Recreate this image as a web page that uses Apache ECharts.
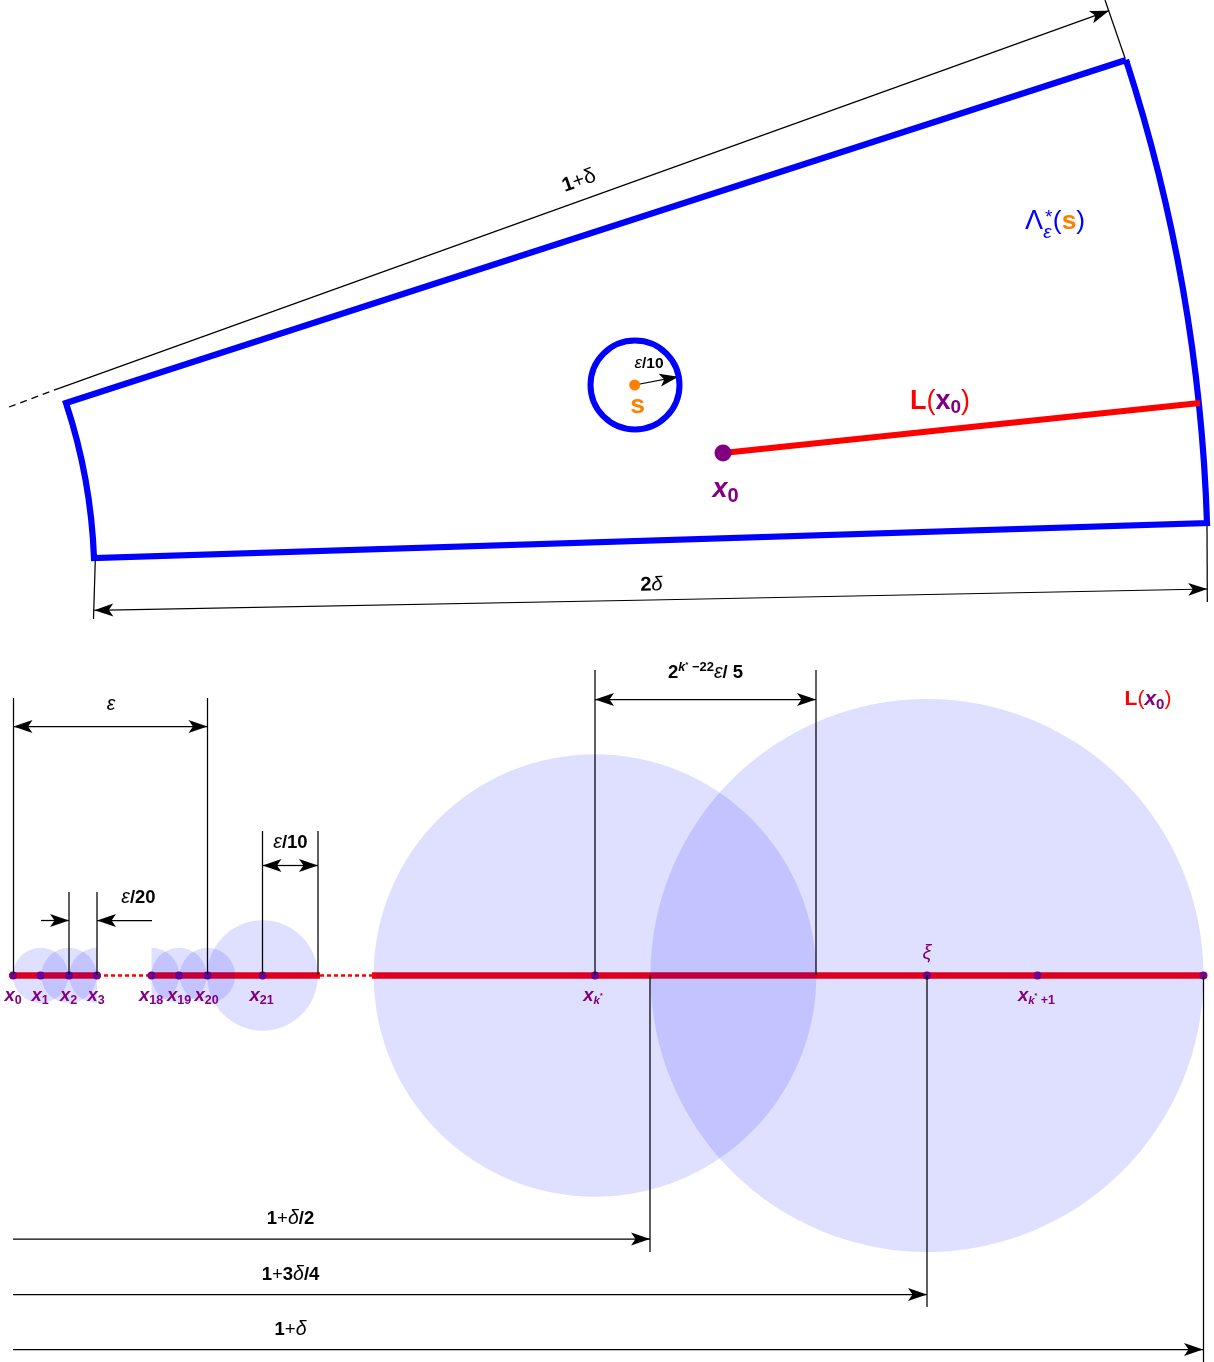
<!DOCTYPE html>
<html>
<head>
<meta charset="utf-8">
<style>html,body{margin:0;padding:0;background:#fff;overflow:hidden}#c{width:1214px;height:1362px}</style>
<script src="https://cdn.jsdelivr.net/npm/echarts@6/dist/echarts.min.js"></script>
</head>
<body>
<div id="c"></div>
<script>
// ---- geometry, in picture units ----
const fanCorners = [[66, 403], [1126, 60], [1207, 523], [94, 558]];
const fanRadii = [1675, 561];
const sCircle = [635, 385, 44.5];
const redLineTop = [[723, 453], [1200, 403]];
const dotS = [[634.7, 385]];
const dotX0 = [[723, 453]];

const dashedGuide = [[9, 407], [59, 388.3]];
const thinLines = [
  [[1105, 0], [1125, 58]],
  [[95.3, 560], [93.5, 619]],
  [[1207, 526], [1207.3, 602]],
  [[13.5, 698], [13.5, 975]],
  [[207.5, 698], [207.5, 975]],
  [[69, 892], [69, 975]],
  [[97, 892], [97, 975]],
  [[262.5, 831], [262.5, 975]],
  [[318, 831], [318, 975]],
  [[595, 670], [595, 975]],
  [[816, 670], [816, 975]],
  [[650, 975], [650, 1252]],
  [[927, 975], [927, 1307]],
  [[1203.5, 975], [1203.5, 1362]]
];
const arrows = [ // from, to: the head sits on "to"
  [59, 388.3, 1109, 10.7],
  [651, 600, 94.3, 610.3],
  [651, 600, 1207.3, 589],
  [634.7, 385, 678.5, 376.7],
  [110, 726.5, 13.5, 726.5],
  [110, 726.5, 207.5, 726.5],
  [290, 865.5, 262.5, 865.5],
  [290, 865.5, 318, 865.5],
  [41, 920.5, 69, 920.5],
  [152, 920.5, 97, 920.5],
  [705, 699.5, 595, 699.5],
  [705, 699.5, 816, 699.5],
  [13, 1239, 650, 1239],
  [13, 1294.5, 927, 1294.5],
  [13, 1349.5, 1203, 1349.5]
];
const axisY = 975.5;
const redSolid = [[13, 97], [152, 320], [372, 1203]];
const redDotted = [[97, 152], [320, 372]];
const pointXs = [13, 40.5, 69, 97, 151.5, 179, 207.5, 262.5, 595, 927, 1037.5, 1203.5];
// discs: centre x, radius, part ('full', 'left' half, 'right' half)
const discs = [
  [40.5, 27.7, 'full'], [69, 27.7, 'full'], [97, 27.7, 'left'],
  [151.5, 27.7, 'right'], [179, 27.7, 'full'], [207.5, 27.7, 'full'],
  [262.5, 55.3, 'full'], [595, 221.3, 'full'], [927, 276.5, 'full']
];

const BLUE = '#0000ff', RED = '#ff0000', ORANGE = '#ff8000', PURPLE = '#800080';
const FF = '"Liberation Sans", Arial, sans-serif';

function r(size, color, weight, style, extra) {
  return Object.assign({fontFamily: FF, fontSize: size, fill: color || '#000', fontWeight: weight || 'normal', fontStyle: style || 'normal'}, extra || {});
}
const sharedRich = {
  b: r(18.5, '#000', 'bold'),
  n: r(18.5, '#000'),
  i: r(19.5, '#000', 'normal', 'italic'),
  b20: r(20, '#000', 'bold'),
  n20: r(20, '#000'),
  i20: r(21, '#000'),
  i20i: r(20, '#000', 'normal', 'italic'),
  bs: r(15.5, '#000', 'bold'),
  is: r(17, '#000', 'normal', 'italic'),
  sup: r(13, '#000', 'bold', 'normal', {verticalAlign: 'top'}),
  supt: r(8, '#000', 'bold', 'normal', {verticalAlign: 'top'}),
  supi: r(12.5, '#000', 'bold', 'italic', {verticalAlign: 'top'}),
  px: r(18.5, PURPLE, 'bold', 'italic'),
  psub: r(12.5, PURPLE, 'bold', 'normal', {verticalAlign: 'bottom'}),
  psubi: r(11.5, PURPLE, 'bold', 'italic', {verticalAlign: 'bottom'}),
  pstar: r(7, PURPLE, 'bold', 'normal', {verticalAlign: 'middle'}),
  bigx: r(27, PURPLE, 'bold', 'italic'),
  bigsub: r(20, PURPLE, 'bold', 'normal', {verticalAlign: 'bottom'}),
  rL: r(27, RED, 'bold'),
  rp: r(27, RED),
  pX: r(27, PURPLE, 'bold'),
  pXs: r(19, PURPLE, 'bold', 'normal', {verticalAlign: 'bottom'}),
  rL2: r(21, RED, 'bold'),
  rp2: r(21, RED),
  pX2: r(21, PURPLE, 'bold', 'italic'),
  pXs2: r(15, PURPLE, 'bold', 'normal', {verticalAlign: 'bottom'}),
  lam: r(27, BLUE),
  lamE: r(19, BLUE, 'normal', 'italic'),
  par: r(26.5, BLUE),
  sO: r(26.5, ORANGE, 'bold'),
  xi: r(20, PURPLE, 'normal', 'italic')
};
// x, y, text, rotation degrees, line height
const labels = [
  [579, 181, '{b20|1}{n20|+}{i20|δ}', 19.8],
  [651.5, 585, '{b20|2}{i20i|δ}', 1.1],
  [1034, 222, '{lam|Λ}', 0],
  [1048, 218, '{lamE|*}', 0],
  [1047.5, 233, '{lamE|ε}', 0],
  [1069, 222, '{par|(}{sO|s}{par|)}', 0],
  [649, 363.5, '{is|ε}{bs|/10}', 0],
  [637.5, 405.5, '{sO|s}', 0],
  [725.5, 490, '{bigx|x}{bigsub|0}', 0, 33],
  [940, 401.5, '{rL|L}{rp|(}{pX|x}{pXs|0}{rp|)}', 0, 32],
  [1148, 699.5, '{rL2|L}{rp2|(}{pX2|x}{pXs2|0}{rp2|)}', 0, 25],
  [111, 705, '{i|ε}', 0],
  [290.5, 843, '{i|ε}{b|/10}', 0],
  [138.5, 898, '{i|ε}{b|/20}', 0],
  [705.5, 673, '{b|2}{supi|k}{supt|*}{sup| −22}{i|ε}{b|/ 5}', 0, 24],
  [13, 996, '{px|x}{psub|0}', 0, 22],
  [40, 996, '{px|x}{psub|1}', 0, 22],
  [68.5, 996, '{px|x}{psub|2}', 0, 22],
  [96, 996, '{px|x}{psub|3}', 0, 22],
  [151, 996, '{px|x}{psub|18}', 0, 22],
  [179, 996, '{px|x}{psub|19}', 0, 22],
  [206.5, 996, '{px|x}{psub|20}', 0, 22],
  [261.5, 996, '{px|x}{psub|21}', 0, 22],
  [593, 996, '{px|x}{psubi|k}{pstar|*}', 0, 22],
  [1036.5, 996, '{px|x}{psubi|k}{pstar|*}{psub| +1}', 0, 22],
  [927, 953, '{xi|ξ}', 0],
  [290.5, 1219, '{b|1}{n|+}{i|δ}{b|/2}', 0],
  [290.5, 1275, '{b|1}{n|+}{b|3}{i|δ}{b|/4}', 0],
  [290.5, 1330, '{b|1}{n|+}{i|δ}', 0]
];

function lineSeries(pts, width, color, z, dash) {
  return {type: 'line', data: pts, symbol: 'none', silent: true, clip: false, z: z, animation: false,
    lineStyle: {width: width, color: color, type: dash || 'solid', cap: 'butt', join: 'miter'}};
}
function dots(pts, size, color, z) {
  return {type: 'scatter', data: pts, symbol: 'circle', symbolSize: size, silent: true, clip: false, z: z,
    itemStyle: {color: color, opacity: 1}};
}

const series = [
  // outline of the annular sector
  {type: 'custom', coordinateSystem: 'cartesian2d', silent: true, clip: false, z: 5,
    data: [fanCorners.flat().concat(fanRadii)],
    renderItem: function (p, api) {
      const c = [0, 2, 4, 6].map(i => api.coord([api.value(i), api.value(i + 1)]));
      const k = api.size([1, 1])[0];
      const R = api.value(8) * k, q = api.value(9) * k;
      const d = 'M' + c[0] + 'L' + c[1] + 'A' + R + ' ' + R + ' 0 0 1 ' + c[2] + 'L' + c[3] + 'A' + q + ' ' + q + ' 0 0 0 ' + c[0] + 'Z';
      return {type: 'path', shape: {pathData: d.replace(/,/g, ' ')}, style: {fill: 'none', stroke: BLUE, lineWidth: 6.2, lineJoin: 'miter'}};
    }},
  // circle round s
  {type: 'custom', coordinateSystem: 'cartesian2d', silent: true, clip: false, z: 5,
    data: [sCircle],
    renderItem: function (p, api) {
      const c = api.coord([api.value(0), api.value(1)]);
      return {type: 'circle', shape: {cx: c[0], cy: c[1], r: api.size([api.value(2), 0])[0]}, style: {fill: 'none', stroke: BLUE, lineWidth: 6}};
    }},
  lineSeries(redLineTop, 5.8, RED, 6),
  dots(dotS, 11, ORANGE, 7),
  dots(dotX0, 17, PURPLE, 7),
  lineSeries(dashedGuide, 1.25, '#000', 4, [7, 5]),
  // lower diagram
  ...redSolid.map(s => lineSeries([[s[0], axisY], [s[1], axisY]], 6.6, RED, 1)),
  ...redDotted.map(s => lineSeries([[s[0], axisY], [s[1], axisY]], 2.6, RED, 1, [4, 3])),
  dots(pointXs.map(x => [x, axisY]), 8, PURPLE, 2),
  {type: 'custom', coordinateSystem: 'cartesian2d', silent: true, clip: false, z: 3,
    dimensions: ['x', 'r', 'part'],
    encode: {x: 0},
    data: discs,
    renderItem: function (p, api) {
      const c = api.coord([api.value(0), axisY]);
      const rad = api.size([api.value(1), 0])[0];
      const part = discs[p.dataIndex][2];
      const a = part === 'left' ? [Math.PI / 2, Math.PI * 1.5] : part === 'right' ? [-Math.PI / 2, Math.PI / 2] : [0, Math.PI * 2];
      return {type: 'sector', shape: {cx: c[0], cy: c[1], r: rad, r0: 0, startAngle: a[0], endAngle: a[1], clockwise: true},
        style: {fill: 'rgba(0,0,255,0.125)', stroke: 'none'}};
    }},
  ...thinLines.map(l => lineSeries(l, 1.25, '#000', 4)),
  // arrows
  {type: 'custom', coordinateSystem: 'cartesian2d', silent: true, clip: false, z: 4,
    data: arrows,
    renderItem: function (p, api) {
      const a = api.coord([api.value(0), api.value(1)]);
      const b = api.coord([api.value(2), api.value(3)]);
      const t = Math.atan2(b[1] - a[1], b[0] - a[0]);
      const cs = Math.cos(t), sn = Math.sin(t);
      const P = (u, v) => [b[0] + u * cs - v * sn, b[1] + u * sn + v * cs];
      return {type: 'group', children: [
        {type: 'line', shape: {x1: a[0], y1: a[1], x2: b[0], y2: b[1]}, style: {stroke: '#000', lineWidth: 1.25}},
        {type: 'polygon', shape: {points: [P(0, 0), P(-19, -6.5), P(-14.5, 0), P(-19, 6.5)]}, style: {fill: '#000', stroke: 'none'}}
      ]};
    }},
  // text
  {type: 'custom', coordinateSystem: 'cartesian2d', silent: true, clip: false, z: 8,
    data: labels.map(l => [l[0], l[1]]),
    renderItem: function (p, api) {
      const l = labels[p.dataIndex];
      const c = api.coord([api.value(0), api.value(1)]);
      const rich = {};
      const lh = l[4];
      Object.keys(sharedRich).forEach(k => {
        rich[k] = Object.assign({}, sharedRich[k]);
        if (lh) rich[k].lineHeight = lh;
      });
      return {type: 'text', x: c[0], y: c[1], rotation: l[3] * Math.PI / 180,
        style: {text: l[2], rich: rich, align: 'center', verticalAlign: 'middle', fontFamily: FF}};
    }}
];

const chart = echarts.init(document.getElementById('c'), null, {renderer: 'canvas', width: 1214, height: 1362});
chart.setOption({
  animation: false,
  backgroundColor: '#fff',
  grid: {left: 0, right: 0, top: 0, bottom: 0, containLabel: false},
  xAxis: {type: 'value', min: 0, max: 1214, show: false},
  yAxis: {type: 'value', min: 0, max: 1362, inverse: true, show: false},
  tooltip: {show: false},
  series: series
});
</script>
</body>
</html>
